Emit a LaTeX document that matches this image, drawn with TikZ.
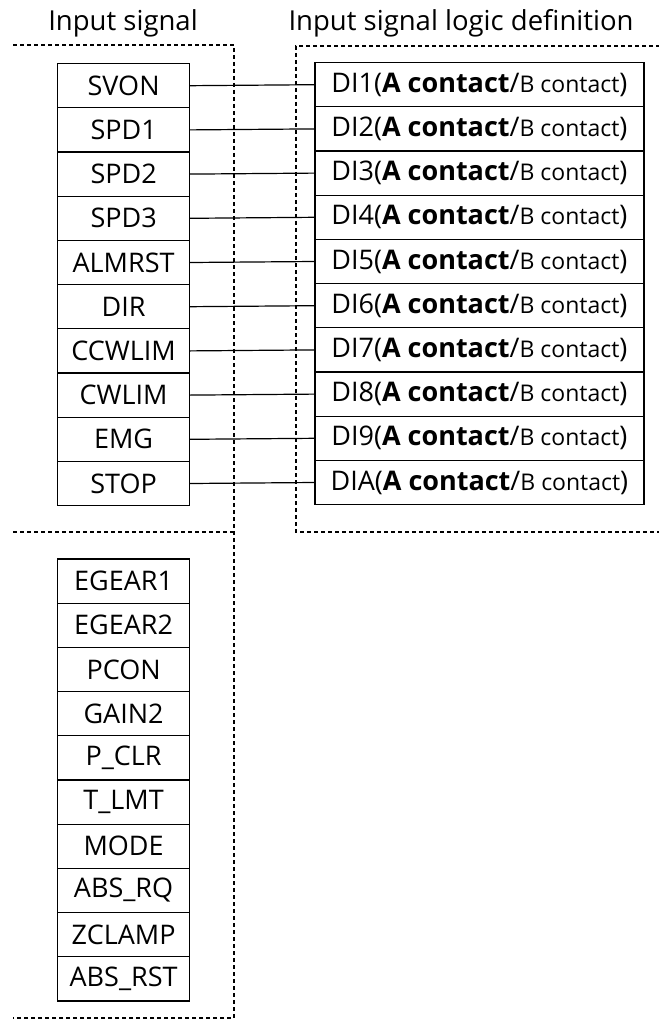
\documentclass[tikz,border=0pt]{standalone}
\usepackage{fontspec}
\setmainfont{Open Sans}
\begin{document}
\begin{tikzpicture}[x=1pt,y=-1pt,
  cell/.style={draw, line width=1.2pt, rectangle, inner sep=0pt, minimum height=44.2pt, anchor=north west, font=\fontsize{27}{32}\selectfont},
  lcell/.style={cell, minimum width=132pt},
  rcell/.style={cell, minimum width=329pt},
  title/.style={font=\fontsize{27.5}{32}\selectfont, inner sep=0pt},
  zone/.style={dashed, line width=1.1pt, dash pattern=on 4pt off 3pt},
  link/.style={line width=1.2pt}]
\useasboundingbox (0,0) rectangle (658,1019);
% titles
\node[title] (t1) at (123,23) {Input signal};
\node[title] (t2) at (461,23) {Input signal logic definition};
% dashed zones
\draw[zone] (13,45) -- (234,45) -- (234,1018) -- (13,1018);
\draw[zone] (13,532) -- (234,532);
\draw[zone] (660,46) -- (296,46) -- (296,532) -- (660,532);
% upper left cells and right cells
\foreach \t [count=\i] in {SVON,SPD1,SPD2,SPD3,ALMRST,DIR,CCWLIM,CWLIM,EMG,STOP} {
  \node[lcell] (l\i) at (57,{63+44.2*(\i-1)}) {\t};
}
\foreach \t [count=\i] in {1,2,3,4,5,6,7,8,9,A} {
  \node[rcell] (r\i) at (314.3,{62+44.2*(\i-1)}) {DI\t(\textbf{A contact}/{\fontsize{23}{27}\selectfont B contact})};
  \draw[link] (l\i.east) -- (r\i.west);
}
% lower left cells
\foreach \t [count=\i] in {EGEAR1,EGEAR2,PCON,GAIN2,P\_CLR,T\_LMT,MODE,ABS\_RQ,ZCLAMP,ABS\_RST} {
  \node[lcell] (m\i) at (57,{558.3+44.2*(\i-1)}) {\t};
}
\end{tikzpicture}
\end{document}
